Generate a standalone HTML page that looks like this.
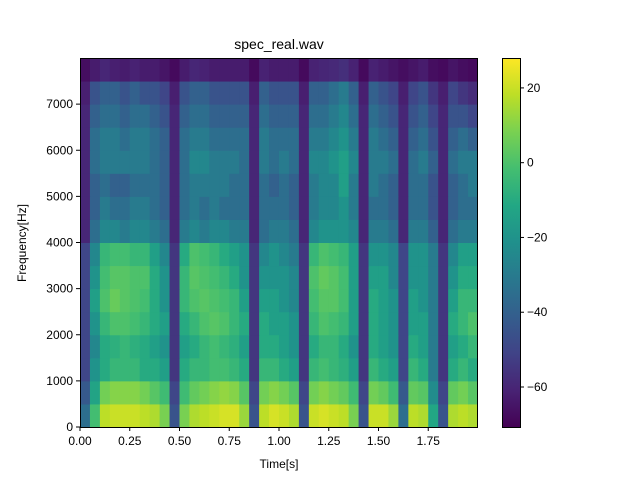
<!DOCTYPE html>
<html><head><meta charset="utf-8"><style>
body{margin:0;background:#fff;}
svg text{font-family:"Liberation Sans","DejaVu Sans",sans-serif;fill:#000;}
</style></head><body>
<svg id="chart" width="640" height="480" xmlns="http://www.w3.org/2000/svg">
<defs><linearGradient id="cbg" x1="0" y1="1" x2="0" y2="0"></linearGradient></defs>
<g id="cells"></g>
<rect x="80.5" y="58.5" width="397" height="369" fill="none" stroke="#000" stroke-width="1"/>
<g id="xticks"></g>
<g id="yticks"></g>
<text x="279" y="49" font-size="14" text-anchor="middle">spec_real.wav</text>
<text x="279" y="468" font-size="12" text-anchor="middle">Time[s]</text>
<text x="26" y="243" font-size="12" text-anchor="middle" transform="rotate(-90 26 243)">Frequency[Hz]</text>
<rect x="502" y="58" width="18" height="369" fill="url(#cbg)"/>
<rect x="502.5" y="58.5" width="18" height="369" fill="none" stroke="#000"/>
<g id="cticks"></g>
</svg>
<script>
const timeStep = 0.05;
const freqStep = 500;
const xTickLabels = ["0.00","0.25","0.50","0.75","1.00","1.25","1.50","1.75"];
const yTickLabels = [0,1000,2000,3000,4000,5000,6000,7000];
const cTickLabels = [20,0,-20,-40,-60];
const values = [
[-35,-2,18,20,20,20,18,16,8,-45,8,16,18,20,22,22,13,-45,18,22,20,16,-45,20,22,20,18,8,-45,20,20,13,-35,18,16,-12,-45,16,18,16],
[-43,-13,7,10,10,10,7,2,-3,-50,-3,4,7,10,12,10,2,-50,7,10,7,2,-50,7,10,7,4,-3,-50,7,4,-3,-43,4,2,-23,-50,4,7,2],
[-50,-20,-10,-5,-5,-5,-10,-10,-15,-55,-10,-5,-5,-2,-2,-5,-10,-55,-5,-5,-10,-15,-55,-5,-2,-5,-8,-15,-55,-5,-10,-15,-50,-5,-10,-30,-55,-10,-5,-10],
[-50,-25,-10,-8,-5,-8,-10,-15,-20,-55,-15,-10,-5,-2,-5,-8,-15,-55,-10,-10,-15,-20,-55,-10,-5,-5,-10,-20,-55,-10,-15,-20,-50,-10,-15,-30,-55,-15,-10,-5],
[-50,-20,-5,0,0,-2,-5,-10,-15,-55,-10,-5,0,2,0,-5,-10,-55,-10,-15,-15,-20,-55,-5,0,-2,-5,-15,-55,-10,-15,-20,-50,-15,-15,-30,-55,-10,-5,0],
[-50,-15,0,5,2,0,-2,-10,-20,-55,-5,0,2,0,-2,-5,-15,-55,-15,-15,-20,-25,-55,-2,2,2,-2,-15,-55,-10,-15,-20,-50,-15,-20,-30,-55,-15,-5,-5],
[-50,-20,-2,2,2,0,0,-10,-20,-55,-5,2,0,-2,-5,-10,-20,-55,-20,-20,-20,-25,-55,0,4,2,-2,-15,-55,-15,-15,-25,-50,-20,-20,-30,-55,-20,-10,-10],
[-50,-25,-5,-2,-2,-5,-5,-15,-25,-55,-10,0,-2,-5,-10,-15,-20,-55,-25,-20,-25,-30,-55,-5,0,-2,-5,-15,-55,-20,-20,-25,-50,-20,-20,-30,-55,-25,-15,-15],
[-60,-35,-25,-25,-30,-25,-25,-30,-35,-60,-30,-25,-30,-25,-25,-30,-30,-60,-35,-30,-30,-35,-60,-25,-20,-20,-20,-25,-60,-30,-30,-35,-60,-30,-30,-40,-60,-35,-30,-30],
[-60,-40,-30,-35,-35,-30,-30,-35,-40,-60,-35,-30,-35,-30,-35,-35,-35,-60,-35,-35,-35,-40,-60,-30,-25,-25,-20,-30,-60,-35,-35,-40,-60,-35,-35,-45,-60,-40,-35,-35],
[-60,-40,-35,-40,-40,-35,-35,-35,-40,-60,-35,-30,-30,-30,-30,-35,-35,-60,-35,-40,-35,-40,-60,-30,-25,-25,-15,-30,-60,-30,-35,-40,-60,-35,-35,-45,-60,-40,-35,-30],
[-60,-35,-30,-30,-30,-30,-30,-35,-40,-60,-35,-25,-25,-30,-30,-30,-35,-60,-30,-35,-30,-35,-60,-25,-25,-20,-15,-25,-60,-30,-30,-35,-60,-35,-30,-40,-60,-35,-30,-30],
[-60,-35,-30,-30,-35,-30,-30,-35,-40,-60,-35,-30,-30,-35,-35,-35,-35,-60,-30,-35,-35,-35,-60,-30,-30,-25,-20,-30,-60,-30,-35,-40,-60,-40,-35,-45,-60,-40,-35,-40],
[-60,-40,-35,-35,-40,-35,-35,-40,-45,-60,-40,-35,-35,-40,-40,-40,-40,-60,-35,-40,-40,-40,-60,-35,-35,-30,-25,-35,-60,-35,-40,-45,-60,-45,-40,-50,-60,-45,-45,-50],
[-62,-45,-40,-40,-45,-40,-45,-45,-50,-62,-45,-40,-40,-45,-45,-45,-45,-62,-40,-45,-45,-45,-62,-40,-40,-35,-30,-40,-62,-40,-45,-50,-62,-50,-45,-55,-62,-50,-55,-58],
[-67,-63,-60,-62,-63,-61,-63,-63,-65,-68,-63,-60,-61,-63,-63,-63,-63,-68,-61,-63,-63,-63,-68,-61,-60,-59,-57,-61,-68,-61,-63,-65,-67,-65,-63,-67,-68,-65,-67,-68]
];
const vmin=-70.7, vmax=28;
const X0=80, X1=477, Y0=427, Y1=58, tMax=1.995, fMax=8000;
const xs=t=>X0+(t/tMax)*(X1-X0);
const ys=f=>Y0-(f/fMax)*(Y0-Y1);
const cs=v=>427-(v-vmin)/(vmax-vmin)*369;
const vir=[[68,1,84],[72,35,116],[64,67,135],[52,94,141],[41,120,142],[32,144,140],[34,167,132],[68,190,112],[121,209,81],[189,222,38],[253,231,37]];
function color(v){let p=Math.max(0,Math.min(1,(v-vmin)/(vmax-vmin)))*(vir.length-1);let i=Math.min(vir.length-2,Math.floor(p)),f=p-i;const c=vir[i].map((a,k)=>Math.round(a+(vir[i+1][k]-a)*f));return `rgb(${c})`;}
const NS="http://www.w3.org/2000/svg";
function mk(tag,attrs,parent){const e=document.createElementNS(NS,tag);for(const k in attrs)e.setAttribute(k,attrs[k]);parent.appendChild(e);return e;}
const cells=document.getElementById('cells');
values.forEach((row,r)=>{row.forEach((v,c)=>{
 const x=xs(c*timeStep), x2=Math.min(X1,xs((c+1)*timeStep));
 const y=ys((r+1)*freqStep), y2=ys(r*freqStep);
 const e=mk('rect',{x:x,y:y,width:Math.max(0,x2-x+0.5),height:y2-y+0.5,fill:color(v)},cells);
 
 
});});
const xg=document.getElementById('xticks');
xTickLabels.forEach(l=>{const x=xs(parseFloat(l));
 const t=mk('line',{x1:x,x2:x,y1:427,y2:431,stroke:'#000'},xg);
 
 
 const tx=mk('text',{x:x,y:445,'font-size':12,'text-anchor':'middle'},xg);tx.textContent=l;
 
 
});
const yg=document.getElementById('yticks');
yTickLabels.forEach(l=>{const y=ys(l);
 const t=mk('line',{x1:76,x2:80,y1:y,y2:y,stroke:'#000'},yg);
 
 
 const tx=mk('text',{x:73,y:y+4,'font-size':12,'text-anchor':'end'},yg);tx.textContent=l;
 
 
});
const cg=document.getElementById('cticks');
cTickLabels.forEach(l=>{const y=cs(l);
 const t=mk('line',{x1:520,x2:524,y1:y,y2:y,stroke:'#000'},cg);
 
 
 const tx=mk('text',{x:527,y:y+4,'font-size':12},cg);tx.textContent=(l<0?'\u2212'+(-l):l);
 
 
});
const grad=document.getElementById('cbg');
vir.forEach((c,i)=>{const s=mk('stop',{offset:(i/(vir.length-1)),'stop-color':`rgb(${c})`},grad);
 
 
});
</script>
</body></html>
